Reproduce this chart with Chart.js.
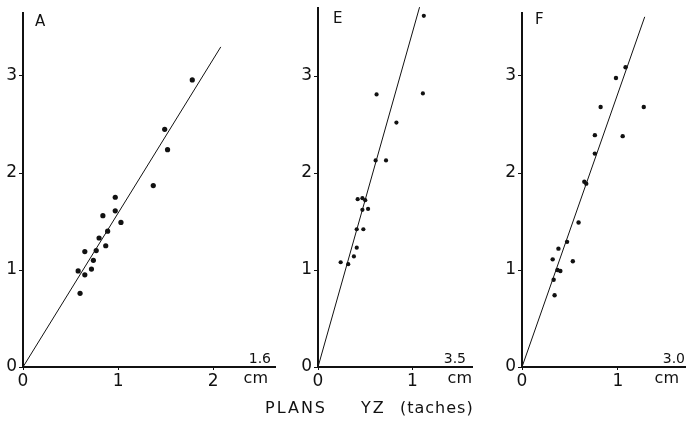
<!DOCTYPE html>
<html>
<head>
<meta charset="utf-8">
<script src="https://cdn.jsdelivr.net/npm/chart.js@4.4.0/dist/chart.umd.min.js"></script>
<style>
  body { margin: 0; background: #fff; width: 689px; height: 424px; overflow: hidden; position: relative; }
  canvas { position: absolute; top: 0; }
  .cap { position: absolute; top: 398px; font: 16px "DejaVu Sans", sans-serif; letter-spacing: 2px; color: #111; }
</style>
</head>
<body>
<canvas id="panel-a" width="279" height="400" style="left:0px"></canvas>
<canvas id="panel-e" width="181" height="400" style="left:295px"></canvas>
<canvas id="panel-f" width="190" height="400" style="left:499px"></canvas>
<span class="cap" style="left:265px">PLANS</span>
<span class="cap" style="left:361px">YZ</span>
<span class="cap" style="left:400px; letter-spacing:1px">(taches)</span>

<script>
// values (cm)
var aX = [0.58, 0.60, 0.65, 0.65, 0.72, 0.74, 0.77, 0.80, 0.84, 0.87, 0.89, 0.97, 0.97, 1.03, 1.37, 1.49, 1.52, 1.78];
var aY = [0.99, 0.76, 0.95, 1.19, 1.01, 1.10, 1.20, 1.33, 1.56, 1.25, 1.40, 1.75, 1.61, 1.49, 1.87, 2.45, 2.24, 2.96];
var eX = [0.24, 0.32, 0.38, 0.41, 0.41, 0.48, 0.42, 0.47, 0.50, 0.47, 0.53, 0.61, 0.72, 0.83, 0.62, 1.11, 1.12];
var eY = [1.08, 1.06, 1.14, 1.23, 1.42, 1.42, 1.73, 1.74, 1.72, 1.62, 1.63, 2.13, 2.13, 2.52, 2.81, 2.82, 3.62];
var fX = [0.34, 0.33, 0.32, 0.38, 0.37, 0.40, 0.47, 0.53, 0.59, 0.65, 0.67, 0.76, 0.76, 0.82, 0.98, 1.05, 1.08, 1.27];
var fY = [0.74, 0.90, 1.11, 1.22, 1.00, 0.99, 1.29, 1.09, 1.49, 1.91, 1.89, 2.39, 2.20, 2.68, 2.98, 2.38, 3.09, 2.68];

// fitted lines through the origin: end points
var aLine = [[0, 0], [2.08, 3.30]];
var eLine = [[0, 0], [1.075, 3.71]];
var fLine = [[0, 0], [1.28, 3.61]];

var panelNames = ['A', 'E', 'F'];
var slopeLabels = ['1.6', '3.5', '3.0'];
var xMaxes = [2.65, 1.63, 1.70];
var yMaxes = [3.65, 3.70, 3.65];
var pointSizes = [2.6, 2.1, 2.2];

var ink = '#111';
var Y_AXIS_W = 23;
var X_AXIS_H = 33;

function toPoints(xs, ys)
{
  return xs.map(function (x, i) { return { x: x, y: ys[i] }; });
}

function integerTicks(scale)
{
  scale.ticks = scale.ticks.filter(function (t) { return Number.isInteger(t.value); });
}

// panel letter, slope value and unit, drawn on the panel canvas
var panelText = {
  id: 'panelText',
  afterDraw: function (chart, args, opts)
  {
    var ctx = chart.ctx;
    var area = chart.chartArea;
    var yZero = chart.scales.y.getPixelForValue(0);
    ctx.save();
    ctx.fillStyle = ink;
    ctx.textBaseline = 'top';
    ctx.textAlign = 'left';
    ctx.font = '15px "DejaVu Sans"';
    ctx.fillText(opts.name, area.left + opts.nameDx, opts.nameTop);
    ctx.textAlign = 'right';
    ctx.textBaseline = 'alphabetic';
    ctx.font = '14px "DejaVu Sans"';
    ctx.fillText(opts.slope, area.right - opts.slopeDx, yZero - 4);
    ctx.textBaseline = 'middle';
    ctx.font = '16px "DejaVu Sans"';
    ctx.fillText('cm', area.right - opts.cmDx, yZero + 12);
    ctx.restore();
  }
};

function makePanel(id, i, xs, ys, line, extra)
{
  var yMax = yMaxes[i];
  var pxPerUnit = 97;
  var top = 367 - yMax * pxPerUnit;
  return new Chart(document.getElementById(id), {
    type: 'scatter',
    data: {
      datasets: [{
          data: toPoints(xs, ys),
          pointRadius: pointSizes[i],
          pointBackgroundColor: ink,
          pointBorderWidth: 0
        }, {
          type: 'line',
          data: line.map(function (p) { return { x: p[0], y: p[1] }; }),
          borderColor: ink,
          borderWidth: 1,
          pointRadius: 0,
          fill: false,
          clip: false
        }
      ]
    },
    options: {
      responsive: false,
      animation: false,
      events: [],
      layout: { padding: { top: top, left: 0, right: 0, bottom: 0 } },
      plugins: {
        legend: { display: false },
        tooltip: { enabled: false },
        panelText: Object.assign({ name: panelNames[i], slope: slopeLabels[i] }, extra)
      },
      scales: {
        x: {
          type: 'linear',
          min: 0,
          max: xMaxes[i],
          ticks: { stepSize: 1, color: ink, padding: 1, font: { size: 17, family: 'DejaVu Sans' } },
          afterBuildTicks: integerTicks,
          afterFit: function (s) { s.height = X_AXIS_H; s.paddingLeft = 0; s.paddingRight = 0; },
          grid: { drawOnChartArea: false, drawTicks: true, tickLength: 3, color: ink },
          border: { color: ink, width: 2, dash: [1, 1] }
        },
        y: {
          type: 'linear',
          min: 0,
          max: yMax,
          ticks: { stepSize: 1, color: ink, padding: 2, font: { size: 17, family: 'DejaVu Sans' } },
          afterBuildTicks: integerTicks,
          afterFit: function (s) { s.width = Y_AXIS_W; s.paddingTop = 0; s.paddingBottom = 0; },
          grid: { drawOnChartArea: false, drawTicks: true, tickLength: 4, color: ink },
          border: { color: ink, width: 2 }
        }
      }
    },
    plugins: [panelText]
  });
}

makePanel('panel-a', 0, aX, aY, aLine, { nameDx: 12, nameTop: 15, slopeDx: 4, cmDx: 7 });
makePanel('panel-e', 1, eX, eY, eLine, { nameDx: 15, nameTop: 12, slopeDx: 6, cmDx: 0 });
makePanel('panel-f', 2, fX, fY, fLine, { nameDx: 13, nameTop: 13, slopeDx: 0, cmDx: 6 });
</script>
</body>
</html>
